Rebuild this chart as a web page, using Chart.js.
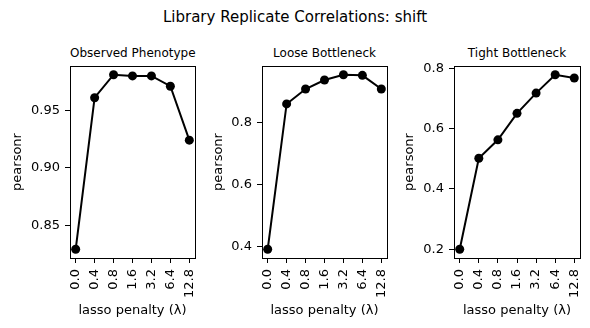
<!DOCTYPE html>
<html lang="en">
<head>
    <meta charset="UTF-8">
    <script src="https://cdn.jsdelivr.net/npm/chart.js@4.4.1/dist/chart.umd.min.js"></script>
    <title>Library Replicate Correlations</title>
    <style>
        body { margin: 0; width: 590px; height: 328px; position: relative; background: #fff; font-family: "DejaVu Sans", sans-serif; overflow: hidden; }
        .panel { position: absolute; top: 0; height: 328px; }
        .suptitle { position: absolute; left: 0; width: 590px; top: 8px; text-align: center; font-size: 15px; line-height: 18px; color: #000; }
        .subtitle { position: absolute; top: 46px; text-align: center; font-size: 12px; line-height: 14px; color: #000; white-space: nowrap; }
    </style>
</head>
<body>
    <div class="suptitle">Library Replicate Correlations: shift</div>

    <div class="subtitle" style="left:70px;width:125px">Observed Phenotype</div>
    <div class="subtitle" style="left:262px;width:125px">Loose Bottleneck</div>
    <div class="subtitle" style="left:454px;width:126px">Tight Bottleneck</div>

    <canvas id="c1" class="panel" style="left:0px" width="200" height="328"></canvas>
    <canvas id="c2" class="panel" style="left:200px" width="195" height="328"></canvas>
    <canvas id="c3" class="panel" style="left:395px" width="195" height="328"></canvas>

    <script>
        // x categories (lasso penalty values)
        const lambdas = ['0.0', '0.4', '0.8', '1.6', '3.2', '6.4', '12.8'];

        // pearson r for each panel
        const observed = [0.829, 0.961, 0.981, 0.980, 0.980, 0.971, 0.924];
        const loose = [0.392, 0.860, 0.908, 0.937, 0.954, 0.952, 0.908];
        const tight = [0.200, 0.502, 0.563, 0.651, 0.718, 0.779, 0.768];

        // y tick positions per panel
        const observedTicks = [0.85, 0.90, 0.95];
        const looseTicks = [0.4, 0.6, 0.8];
        const tightTicks = [0.2, 0.4, 0.6, 0.8];

        const FONT = { family: 'DejaVu Sans', size: 13 };

        // draws the top/right spines so the axes look like a closed box
        const boxPlugin = {
            id: 'box',
            afterDraw(chart) {
                const a = chart.chartArea;
                const ctx = chart.ctx;
                ctx.save();
                ctx.strokeStyle = '#000';
                ctx.lineWidth = 1;
                ctx.strokeRect(Math.round(a.left) + 0.5, Math.round(a.top) + 0.5,
                    Math.round(a.right - a.left), Math.round(a.bottom - a.top));
                ctx.restore();
            }
        };

        function makePanel(id, values, yTicks, decimals, pad, yWidth) {
            const lo = Math.min(...values), hi = Math.max(...values);
            const margin = (hi - lo) * 0.05;

            new Chart(document.getElementById(id), {
                type: 'line',
                data: {
                    datasets: [{
                        data: values.map((v, i) => ({ x: i, y: v })),
                        borderColor: '#000',
                        borderWidth: 2,
                        pointRadius: 4.5,
                        pointBackgroundColor: '#000',
                        pointBorderWidth: 0,
                        tension: 0,
                        clip: false
                    }]
                },
                options: {
                    responsive: false,
                    animation: false,
                    events: [],
                    layout: { padding: { left: pad.left, right: pad.right, top: 66, bottom: 0 }, autoPadding: false },
                    plugins: { legend: { display: false }, tooltip: { enabled: false } },
                    scales: {
                        x: {
                            type: 'linear',
                            min: -0.3,
                            max: 6.3,
                            afterBuildTicks: (s) => { s.ticks = lambdas.map((_, i) => ({ value: i })); },
                            afterFit: (s) => { s.height = 70; s.paddingLeft = 0; s.paddingRight = 0; },
                            ticks: {
                                autoSkip: false,
                                minRotation: 90,
                                maxRotation: 90,
                                padding: 6,
                                color: '#000',
                                font: FONT,
                                callback: (v) => lambdas[v]
                            },
                            grid: { drawOnChartArea: false, drawTicks: true, tickLength: 5, color: '#000' },
                            border: { display: true, color: '#000' },
                            title: { display: true, text: 'lasso penalty (λ)', color: '#000', font: FONT, padding: { top: 0, bottom: 10 } }
                        },
                        y: {
                            min: lo - margin,
                            max: hi + margin,
                            afterBuildTicks: (s) => { s.ticks = yTicks.map(v => ({ value: v })); },
                            afterFit: (s) => { s.width = yWidth; s.paddingTop = 0; s.paddingBottom = 0; },
                            ticks: {
                                padding: 5,
                                color: '#000',
                                font: FONT,
                                callback: (v) => Number(v).toFixed(decimals)
                            },
                            grid: { drawOnChartArea: false, drawTicks: true, tickLength: 5, color: '#000' },
                            border: { display: true, color: '#000' },
                            title: { display: true, text: 'pearsonr', color: '#000', font: FONT, padding: { top: 0, bottom: 0 } }
                        }
                    }
                },
                plugins: [boxPlugin]
            });
        }

        makePanel('c1', observed, observedTicks, 2, { left: 10, right: 5 }, 60);
        makePanel('c2', loose, looseTicks, 1, { left: 11, right: 8 }, 51);
        makePanel('c3', tight, tightTicks, 1, { left: 7, right: 10 }, 52);
    </script>
</body>
</html>
